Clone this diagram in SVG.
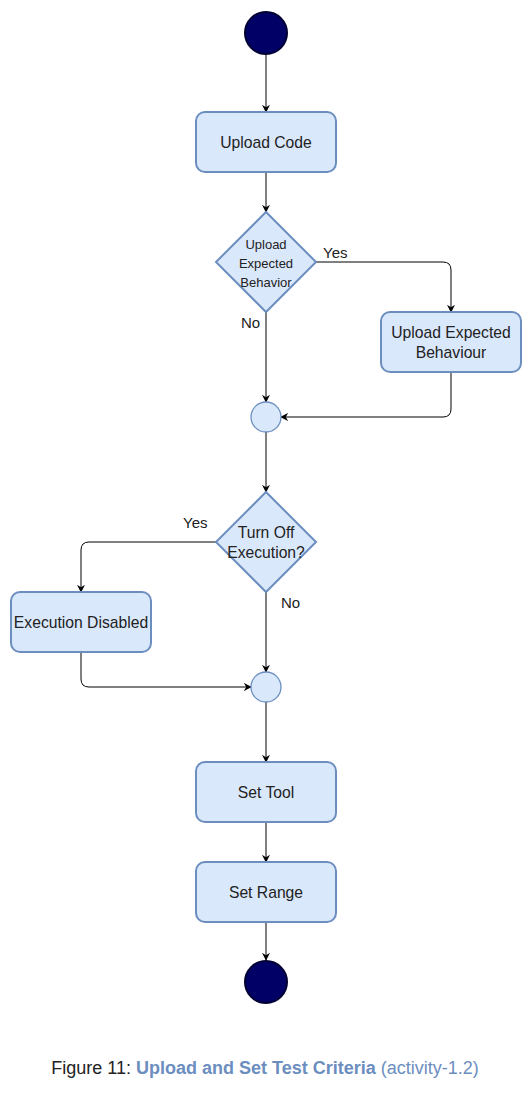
<svg xmlns="http://www.w3.org/2000/svg" width="532" height="1093" viewBox="0 0 532 1093">
<defs>
<marker id="arr" viewBox="0 0 10 10" refX="9" refY="5" markerWidth="8" markerHeight="8" orient="auto" markerUnits="userSpaceOnUse">
<path d="M0,0 L10,5 L0,10 L3,5 Z" fill="#000"/>
</marker>
<style>
.box{fill:#dae8fc;stroke:#6c8ebf;stroke-width:2}
.term{fill:#000066;stroke:#000033;stroke-width:2}
.t{font-family:"Liberation Sans",Arial,sans-serif;font-size:15.7px;fill:#222;text-anchor:middle}
.s{font-size:13px}
.lbl{font-family:"Liberation Sans",Arial,sans-serif;font-size:15px;fill:#222}
.c{fill:none;stroke:#000;stroke-width:1;marker-end:url(#arr)}
</style>
</defs>
<rect width="532" height="1093" fill="#fff"/>
<g id="connectors">
<path class="c" d="M266,55 V112"/>
<path class="c" d="M266,172 V212"/>
<path class="c" d="M316,262 H443 Q451,262 451,270 V312"/>
<path class="c" d="M266,312 V402"/>
<path class="c" d="M451,372 V409 Q451,417 443,417 H281"/>
<path class="c" d="M266,432 V492"/>
<path class="c" d="M216,542 H89 Q81,542 81,550 V592"/>
<path class="c" d="M266,592 V672"/>
<path class="c" d="M81,652 V679 Q81,687 89,687 H251"/>
<path class="c" d="M266,702 V762"/>
<path class="c" d="M266,822 V862"/>
<path class="c" d="M266,922 V960"/>
<text class="lbl" x="323" y="258">Yes</text>
<text class="lbl" x="241" y="328">No</text>
<text class="lbl" x="183" y="528">Yes</text>
<text class="lbl" x="281" y="608">No</text>
</g>
<g id="start"><circle class="term" cx="266" cy="33" r="21"/></g>
<g id="uploadCode"><rect class="box" x="196" y="112" width="140" height="60" rx="9"/><text class="t" x="266" y="148">Upload Code</text></g>
<g id="decision1"><polygon class="box" points="266,212 316,262 266,312 216,262"/>
<text class="t s" x="266" y="249">Upload</text><text class="t s" x="266" y="268">Expected</text><text class="t s" x="266" y="287">Behavior</text></g>
<g id="uploadExpected"><rect class="box" x="381" y="312" width="140" height="60" rx="9"/><text class="t" x="451" y="338">Upload Expected</text><text class="t" x="451" y="358">Behaviour</text></g>
<g id="merge1"><circle class="box" cx="266" cy="417" r="15" style="stroke-width:1.3"/></g>
<g id="decision2"><polygon class="box" points="266,492 316,542 266,592 216,542"/>
<text class="t" x="266" y="538">Turn Off</text><text class="t" x="266" y="558">Execution?</text></g>
<g id="execDisabled"><rect class="box" x="11" y="592" width="140" height="60" rx="9"/><text class="t" x="81" y="628">Execution Disabled</text></g>
<g id="merge2"><circle class="box" cx="266" cy="687" r="15" style="stroke-width:1.3"/></g>
<g id="setTool"><rect class="box" x="196" y="762" width="140" height="60" rx="9"/><text class="t" x="266" y="798">Set Tool</text></g>
<g id="setRange"><rect class="box" x="196" y="862" width="140" height="60" rx="9"/><text class="t" x="266" y="898">Set Range</text></g>
<g id="end"><circle class="term" cx="266" cy="982" r="21"/></g>
<g id="caption"><text x="265" y="1074" text-anchor="middle" font-family="'Liberation Sans',Arial,sans-serif" font-size="18" fill="#222">Figure 11: <tspan font-weight="bold" fill="#6c8ebf">Upload and Set Test Criteria</tspan><tspan fill="#6c8ebf"> (activity-1.2)</tspan></text></g>
</svg>
